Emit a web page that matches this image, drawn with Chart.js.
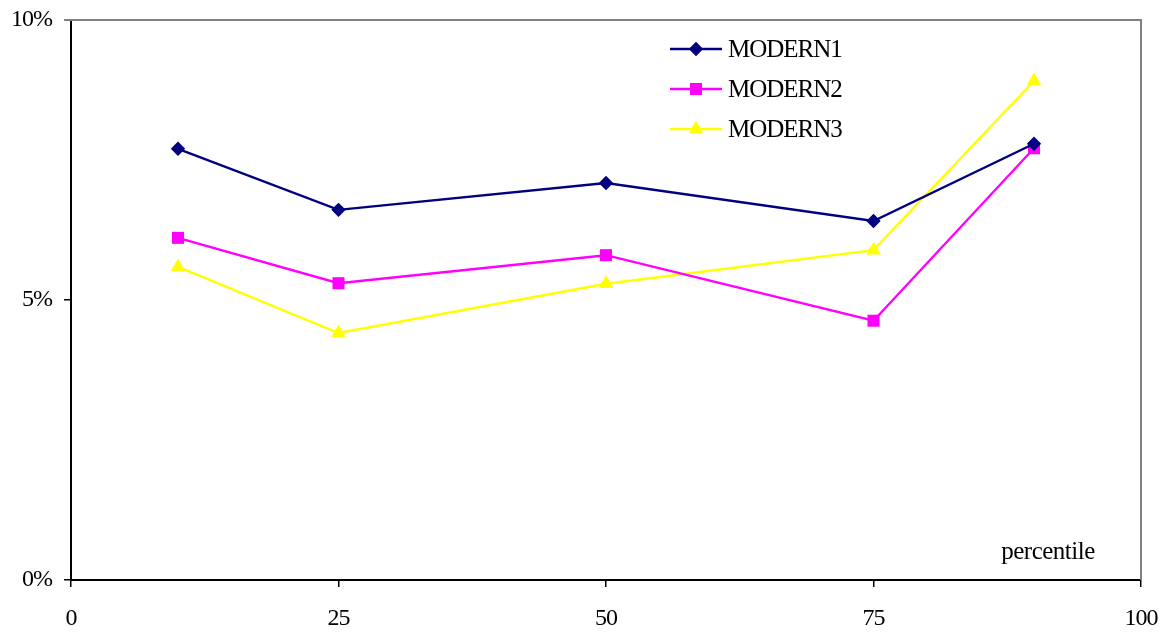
<!DOCTYPE html>
<html>
<head>
<meta charset="utf-8">
<script src="https://cdn.jsdelivr.net/npm/chart.js@4/dist/chart.umd.min.js"></script>
<style>
  html, body { margin: 0; padding: 0; background: #fff; }
  #wrap { width: 1172px; height: 635px; position: relative; }
</style>
</head>
<body>
<div id="wrap"><canvas id="c" width="1172" height="635"></canvas></div>
<script>
// Percentile positions and series values (in %)
const percentiles = [10, 25, 50, 75, 90];
const modern1 = [7.70, 6.61, 7.09, 6.41, 7.79];
const modern2 = [6.11, 5.30, 5.80, 4.63, 7.71];
const modern3 = [5.59, 4.41, 5.29, 5.89, 8.91];
const seriesNames = ['MODERN1', 'MODERN2', 'MODERN3'];
const xTicks = [0, 25, 50, 75, 100];
const yTicks = [0, 5, 10];
const axisTitle = 'percentile';

const FONT = '"Liberation Serif", "Times New Roman", serif';

function pts(vals) {
  return percentiles.map((p, i) => ({ x: p, y: vals[i] }));
}

const styles = [
  { color: '#000080', pointStyle: 'rectRot', radius: 7.2 },
  { color: '#FF00FF', pointStyle: 'rect', radius: 8.5 },
  { color: '#FFFF00', pointStyle: 'triangle', radius: 8.5 }
];

const datasets = [modern1, modern2, modern3].map((vals, i) => ({
  label: seriesNames[i],
  data: pts(vals),
  borderColor: styles[i].color,
  backgroundColor: styles[i].color,
  borderWidth: 2.4,
  pointStyle: styles[i].pointStyle,
  pointRadius: styles[i].radius,
  pointBorderWidth: 0,
  pointHoverRadius: styles[i].radius,
  tension: 0
}));

// Tight text tracking for the serif labels, plot frame, in-plot legend and caption
const decor = {
  id: 'decor',
  beforeDraw(chart) {
    if ('letterSpacing' in chart.ctx) chart.ctx.letterSpacing = '-1px';
  },
  beforeDatasetsDraw(chart) {
    const { ctx, chartArea: a } = chart;
    ctx.save();
    ctx.strokeStyle = '#808080';
    ctx.lineWidth = 2;
    ctx.beginPath();
    ctx.moveTo(a.left - 7, a.top);
    ctx.lineTo(a.right, a.top);
    ctx.lineTo(a.right, a.bottom);
    ctx.stroke();
    ctx.restore();
  },
  afterDraw(chart) {
    const { ctx } = chart;
    ctx.save();
    // legend
    const lx0 = 670, lx1 = 722, tx = 728;
    const rows = [49, 89, 129];
    chart.data.datasets.forEach((ds, i) => {
      const y = rows[i];
      ctx.strokeStyle = ds.borderColor;
      ctx.lineWidth = ds.borderWidth;
      ctx.beginPath();
      ctx.moveTo(lx0, y);
      ctx.lineTo(lx1, y);
      ctx.stroke();
      ctx.fillStyle = ds.backgroundColor;
      Chart.helpers.drawPoint(ctx, {
        pointStyle: ds.pointStyle, radius: ds.pointRadius, rotation: 0, borderWidth: 0
      }, (lx0 + lx1) / 2, y);
      ctx.fillStyle = '#000';
      ctx.font = '25px ' + FONT;
      ctx.textBaseline = 'middle';
      ctx.textAlign = 'left';
      if ('letterSpacing' in ctx) ctx.letterSpacing = '-1px';
      ctx.fillText(ds.label, tx, y + 1);
    });
    // axis caption inside the plot
    ctx.fillStyle = '#000';
    ctx.font = '25px ' + FONT;
    ctx.textAlign = 'center';
    ctx.textBaseline = 'alphabetic';
    if ('letterSpacing' in ctx) ctx.letterSpacing = '-0.5px';
    ctx.fillText(axisTitle, 1048, 559);
    ctx.restore();
  }
};

new Chart(document.getElementById('c'), {
  type: 'line',
  data: { datasets },
  plugins: [decor],
  options: {
    responsive: false,
    animation: false,
    layout: { padding: { top: 20, right: 31, left: 0, bottom: 0 } },
    plugins: {
      legend: { display: false },
      tooltip: { enabled: false }
    },
    scales: {
      x: {
        type: 'linear',
        min: 0,
        max: 100,
        afterBuildTicks(s) { s.ticks = xTicks.map(v => ({ value: v })); },
        afterFit(s) { s.height = 55; s.paddingLeft = 0; s.paddingRight = 0; },
        grid: {
          drawOnChartArea: false,
          drawTicks: true,
          tickLength: 7,
          color: '#000',
          lineWidth: 1.5
        },
        border: { display: true, color: '#000', width: 2 },
        ticks: {
          color: '#000',
          padding: 17,
          maxRotation: 0,
          font: { family: FONT, size: 24 }
        }
      },
      y: {
        type: 'linear',
        min: 0,
        max: 10,
        afterBuildTicks(s) { s.ticks = yTicks.map(v => ({ value: v })); },
        afterFit(s) { s.width = 71; s.paddingTop = 0; s.paddingBottom = 0; },
        grid: {
          drawOnChartArea: false,
          drawTicks: true,
          tickLength: 7,
          color: '#000',
          lineWidth: 1.5
        },
        border: { display: true, color: '#000', width: 2 },
        ticks: {
          color: '#000',
          padding: 12,
          font: { family: FONT, size: 24 },
          callback: v => v + '%'
        }
      }
    }
  }
});
</script>
</body>
</html>
